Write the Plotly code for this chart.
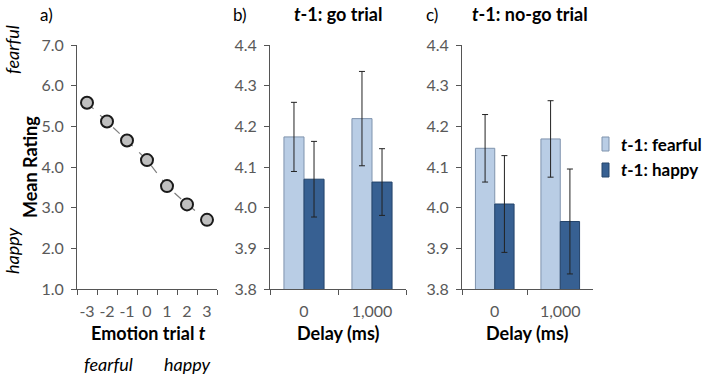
import plotly.graph_objects as go

# ---- data ----
emotion = ["-3", "-2", "-1", "0", "1", "2", "3"]
rating = [5.58, 5.12, 4.65, 4.17, 3.53, 3.08, 2.70]
rating_err = [0.10, 0.10, 0.10, 0.08, 0.08, 0.10, 0.09]

delays = ["0", "1,000"]
go_fearful = [4.174, 4.219]
go_fearful_err = [0.085, 0.116]
go_happy = [4.070, 4.063]
go_happy_err = [0.093, 0.082]
nogo_fearful = [4.146, 4.169]
nogo_fearful_err = [0.083, 0.094]
nogo_happy = [4.009, 3.966]
nogo_happy_err = [0.119, 0.129]

series_names = ["<i>t</i>-1: fearful", "<i>t</i>-1: happy"]

W, H = 712, 377
FONT = "Lato"
LIGHT = "#B9CDE5"
LIGHT_LINE = "#7F93AD"
DARK = "#376092"
DARK_LINE = "#24446B"
AXIS = "#555555"
TICKC = "#595959"


def px(x):
    return x / W


def py(y):
    return 1 - y / H


fig = go.Figure()

# Panel a
fig.add_trace(go.Scatter(
    x=emotion, y=rating, mode="lines+markers",
    line=dict(color="#7f7f7f", width=1.2, dash="dash"),
    marker=dict(size=12, color="#BFBFBF", line=dict(color="#1a1a1a", width=2)),
    error_y=dict(type="data", array=rating_err, color="#7f7f7f", thickness=1, width=3),
    xaxis="x", yaxis="y", showlegend=False))

# Panel b
fig.add_trace(go.Bar(x=delays, y=go_fearful, name=series_names[0],
                     marker=dict(color=LIGHT, line=dict(color=LIGHT_LINE, width=1)),
                     error_y=dict(type="data", array=go_fearful_err, color="#222", thickness=1, width=3),
                     xaxis="x2", yaxis="y2", showlegend=False, offsetgroup="f"))
fig.add_trace(go.Bar(x=delays, y=go_happy, name=series_names[1],
                     marker=dict(color=DARK, line=dict(color=DARK_LINE, width=1)),
                     error_y=dict(type="data", array=go_happy_err, color="#222", thickness=1, width=3),
                     xaxis="x2", yaxis="y2", showlegend=False, offsetgroup="h"))
# Panel c
fig.add_trace(go.Bar(x=delays, y=nogo_fearful, name=series_names[0],
                     marker=dict(color=LIGHT, line=dict(color=LIGHT_LINE, width=1)),
                     error_y=dict(type="data", array=nogo_fearful_err, color="#222", thickness=1, width=3),
                     xaxis="x3", yaxis="y3", showlegend=False, offsetgroup="f"))
fig.add_trace(go.Bar(x=delays, y=nogo_happy, name=series_names[1],
                     marker=dict(color=DARK, line=dict(color=DARK_LINE, width=1)),
                     error_y=dict(type="data", array=nogo_happy_err, color="#222", thickness=1, width=3),
                     xaxis="x3", yaxis="y3", showlegend=False, offsetgroup="h"))

ydom = [py(289), py(45)]
common_x = dict(type="category", showline=True, linecolor=AXIS, linewidth=1,
                ticks="outside", ticklen=5, tickcolor=AXIS, tickson="boundaries",
                showgrid=False, zeroline=False, tickangle=0, ticklabelstandoff=8,
                automargin=False, tickfont=dict(family=FONT, size=16, color=TICKC))
common_y = dict(showline=True, linecolor=AXIS, linewidth=1, ticks="outside",
                ticklen=5, tickcolor=AXIS, showgrid=False, zeroline=False,
                tickformat=".1f", ticklabelstandoff=4, automargin=False,
                tickfont=dict(family=FONT, size=16, color=TICKC))

fig.update_layout(
    width=W, height=H,
    margin=dict(l=0, r=0, t=0, b=0, autoexpand=False),
    paper_bgcolor="white", plot_bgcolor="white",
    barmode="group", bargap=0.41, bargroupgap=0,
    font=dict(family=FONT, color="black"),
    xaxis=dict(domain=[px(77), px(217)], range=[-0.5, 6.5], anchor="y", **common_x),
    yaxis=dict(domain=ydom, range=[1, 7], dtick=1, anchor="x", **common_y),
    xaxis2=dict(domain=[px(270), px(406)], range=[-0.5, 1.5], anchor="y2", **common_x),
    yaxis2=dict(domain=ydom, range=[3.8, 4.4], dtick=0.1, anchor="x2", **common_y),
    xaxis3=dict(domain=[px(462), px(593)], range=[-0.5, 1.5], anchor="y3", **common_x),
    yaxis3=dict(domain=ydom, range=[3.8, 4.4], dtick=0.1, anchor="x3", **common_y),
)


def ann(text, x, y, size=18, angle=0, xanchor="center", color="black"):
    fig.add_annotation(text=text, x=px(x), y=py(y), xref="paper", yref="paper",
                       showarrow=False, textangle=angle, xanchor=xanchor, yanchor="middle",
                       font=dict(family=FONT, size=size, color=color))


# panel labels & titles
ann("a)", 47, 14, size=17)
ann("b)", 240, 14, size=17)
ann("c)", 432, 14, size=17)
ann("<b><i>t</i>-1: go trial</b>", 338, 14)
ann("<b><i>t</i>-1: no-go trial</b>", 530, 14)

# panel a axis titles
ann("<b>Mean Rating</b>", 30, 167, angle=-90)
ann("<i>fearful</i>", 12, 50, angle=-90)
ann("<i>happy</i>", 12, 251, angle=-90)
ann("<b>Emotion trial <i>t</i></b>", 148, 333)
ann("<i>fearful</i>", 108, 364)
ann("<i>happy</i>", 188, 364)

# panel b / c x titles
ann("<b>Delay (ms)</b>", 338, 333)
ann("<b>Delay (ms)</b>", 527, 333)

# legend (manual)
for i, (name, fc, lc) in enumerate([(series_names[0], LIGHT, LIGHT_LINE),
                                     (series_names[1], DARK, DARK_LINE)]):
    yc = 144 + i * 26
    fig.add_shape(type="rect", xref="paper", yref="paper",
                  x0=px(602), x1=px(609), y0=py(yc - 7), y1=py(yc + 7),
                  fillcolor=fc, line=dict(color=lc, width=1))
    ann("<b>" + name + "</b>", 619, yc, size=17, xanchor="left")

fig.write_html("out.html", config={"displayModeBar": False},
               post_script="document.body.style.margin='0px';document.body.style.overflow='hidden';")
